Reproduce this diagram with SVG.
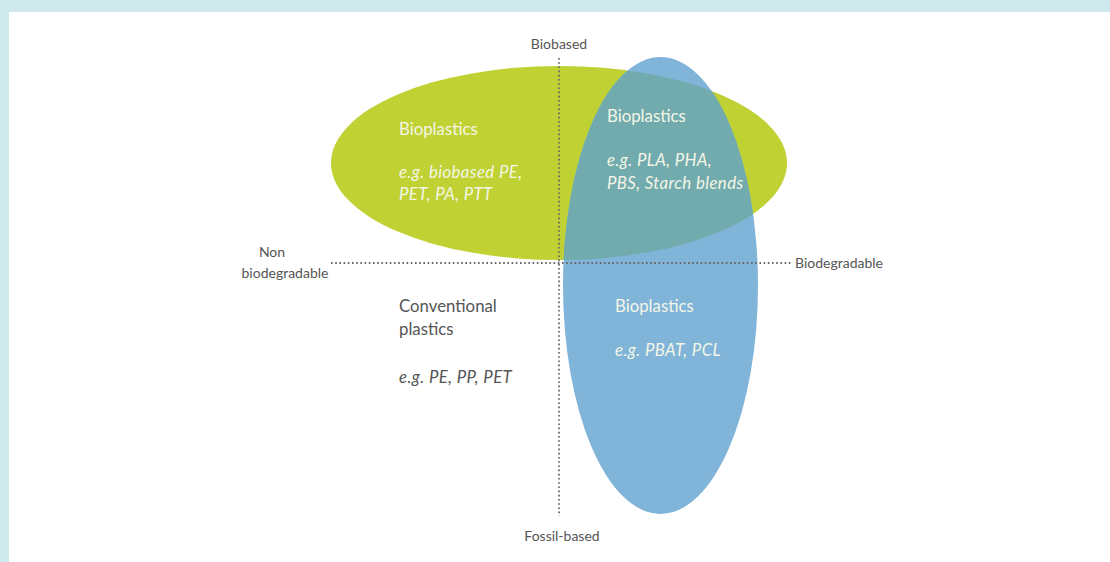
<svg xmlns="http://www.w3.org/2000/svg" width="1110" height="562" viewBox="0 0 1110 562">
<style>
.t{font-family:Lato,"Open Sans","Liberation Sans",sans-serif;font-size:16.8px;}
.ax{font-family:Lato,"Open Sans","Liberation Sans",sans-serif;font-size:14px;fill:#555;}
.w{fill:#f4f6e6;}
.d{fill:#555;}
.i{font-style:italic;letter-spacing:0.4px;}
.dot{stroke:#666;stroke-width:1.8;stroke-dasharray:1.6 2.6;fill:none;}
</style>
<defs>
<clipPath id="cg"><ellipse cx="559" cy="163" rx="228" ry="97"/></clipPath>
</defs>
<rect width="1110" height="562" fill="#cfe8ec"/>
<rect x="9" y="12" width="1101" height="550" fill="#ffffff"/>
<g id="green"><ellipse cx="559" cy="163" rx="228" ry="97" fill="#bfd133"/></g>
<g id="blue"><ellipse cx="660.5" cy="285.5" rx="97.5" ry="228.5" fill="#80b4d9"/></g>
<g id="overlap"><ellipse cx="660.5" cy="285.5" rx="97.5" ry="228.5" fill="#72abae" clip-path="url(#cg)"/></g>
<g id="connectors">
<line class="dot" x1="559" y1="58" x2="559" y2="516"/>
<line class="dot" x1="331" y1="263" x2="791" y2="263"/>
</g>
<g id="axis-labels">
<text class="ax" x="559" y="49" text-anchor="middle">Biobased</text>
<text class="ax" x="562" y="541" text-anchor="middle">Fossil-based</text>
<text class="ax" x="272" y="257" text-anchor="middle">Non</text>
<text class="ax" x="285" y="278" text-anchor="middle">biodegradable</text>
<text class="ax" x="795" y="268">Biodegradable</text>
</g>
<g id="biobased-nonbio">
<text class="t w" x="399" y="135">Bioplastics</text>
<text class="t w i" x="399" y="178">e.g. biobased PE,</text>
<text class="t w i" x="399" y="200">PET, PA, PTT</text>
</g>
<g id="biobased-bio">
<text class="t w" x="607" y="122">Bioplastics</text>
<text class="t w i" x="607" y="166">e.g. PLA, PHA,</text>
<text class="t w i" x="607" y="189">PBS, Starch blends</text>
</g>
<g id="conventional">
<text class="t d" x="399" y="312">Conventional</text>
<text class="t d" x="399" y="335">plastics</text>
<text class="t d i" x="399" y="383">e.g. PE, PP, PET</text>
</g>
<g id="fossil-bio">
<text class="t w" x="615" y="312">Bioplastics</text>
<text class="t w i" x="615" y="356">e.g. PBAT, PCL</text>
</g>
</svg>
